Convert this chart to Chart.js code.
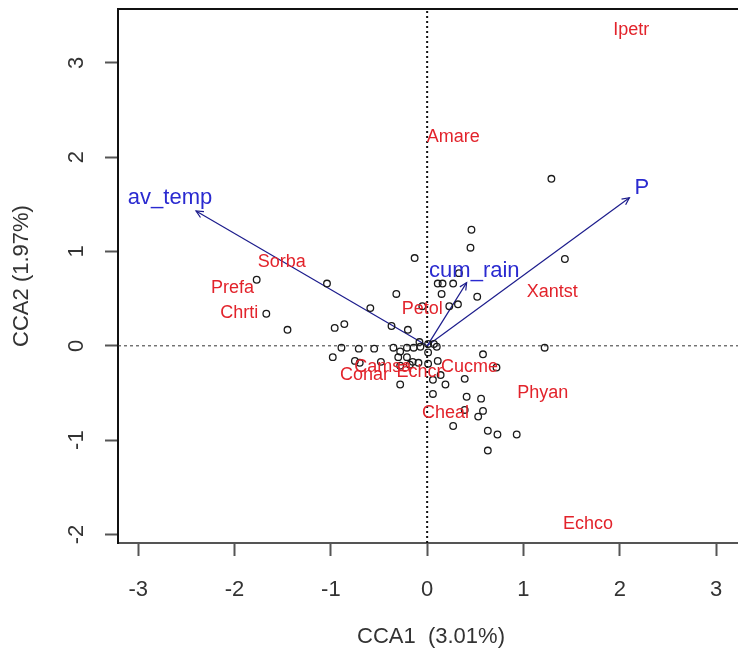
<!DOCTYPE html>
<html>
<head>
<meta charset="utf-8">
<script src="https://cdn.jsdelivr.net/npm/chart.js@4.4.1/dist/chart.umd.min.js"></script>
<style>
    html, body { margin: 0; padding: 0; background: #fff; overflow: hidden; }
    #wrap { width: 752px; height: 651px; }
</style>
</head>
<body>
<div id="wrap"><canvas id="canvas"></canvas></div>
<script>
// axis ticks
let xTicks = [-3, -2, -1, 0, 1, 2, 3];
let yTicks = [-2, -1, 0, 1, 2, 3];
let xRange = [-3.21, 3.29];
let yRange = [-2.09, 3.57];

// site scores (open circles)
let siteX = [1.29, 0.46, 0.45, 1.43, -0.13, -1.77, -1.04, 0.33, 0.11, 0.16, 0.27, -0.32, 0.15, 0.52,
    -0.59, -1.67, -0.05, 0.23, 0.32, -1.45, -0.96, -0.86, -0.37, -0.20, -0.08, 0.01, 0.07, 0.10,
    -0.89, -0.71, -0.55, -0.35, -0.28, -0.14, -0.07, -0.21, -0.98, -0.21, 0.01, 0.58, 1.22, -0.75,
    -0.48, -0.28, -0.18, -0.09, 0.01, 0.11, 0.72, -0.28, 0.39, 0.14, 0.06, 0.19, 0.06, 0.41, 0.56,
    0.58, 0.53, 0.39, 0.27, 0.63, 0.73, 0.93, 0.63, -0.30, -0.15, -0.70];
let siteY = [1.77, 1.23, 1.04, 0.92, 0.93, 0.70, 0.66, 0.77, 0.66, 0.66, 0.66, 0.55, 0.55, 0.52,
    0.40, 0.34, 0.42, 0.42, 0.44, 0.17, 0.19, 0.23, 0.21, 0.17, 0.04, 0.02, 0.02, -0.01,
    -0.02, -0.03, -0.03, -0.02, -0.06, -0.02, -0.01, -0.02, -0.12, -0.12, -0.07, -0.09, -0.02, -0.16,
    -0.17, -0.21, -0.20, -0.18, -0.19, -0.16, -0.23, -0.41, -0.35, -0.31, -0.36, -0.41, -0.51, -0.54, -0.56,
    -0.69, -0.75, -0.68, -0.85, -0.90, -0.94, -0.94, -1.11, -0.12, -0.17, -0.18];

// species scores (red labels)
let speciesNames = ['Ipetr', 'Amare', 'Sorba', 'Prefa', 'Chrti', 'Petol', 'Xantst', 'Cucme',
    'Phyan', 'Cheal', 'Echco', 'Conar', 'Camsa', 'Echcr'];
let speciesX = [2.12, 0.27, -1.51, -2.02, -1.95, -0.05, 1.30, 0.44, 1.20, 0.19, 1.67, -0.65, -0.46, -0.08];
let speciesY = [3.35, 2.21, 0.89, 0.61, 0.35, 0.39, 0.57, -0.22, -0.50, -0.71, -1.89, -0.31, -0.23, -0.28];

// environmental arrows
let envNames = ['av_temp', 'cum_rain', 'P'];
let envX = [-2.40, 0.41, 2.10];
let envY = [1.43, 0.67, 1.57];
let envLabelX = [-2.67, 0.49, 2.23];
let envLabelY = [1.57, 0.79, 1.67];

function drawGraph() {
    let ctx = document.getElementById('canvas').getContext('2d');
    let fontFamily = '"Liberation Sans", Arial, sans-serif';

    let sites = siteX.map(function (x, i) {
        return { x: x, y: siteY[i] };
    });

    let datasets = [{
        label: 'zeroX',
        data: [{ x: 0, y: yRange[0] }, { x: 0, y: yRange[1] }],
        showLine: true,
        borderColor: '#111',
        borderWidth: 2,
        borderDash: [2, 3],
        pointRadius: 0
    }, {
        label: 'zeroY',
        data: [{ x: xRange[0], y: 0 }, { x: xRange[1], y: 0 }],
        showLine: true,
        borderColor: '#333',
        borderWidth: 1,
        borderDash: [3, 3],
        pointRadius: 0
    }, {
        label: 'sites',
        data: sites,
        pointRadius: 3.3,
        pointBorderWidth: 1.3,
        borderColor: '#1a1a1a',
        backgroundColor: 'rgba(0,0,0,0)'
    }];

    envNames.forEach(function (name, i) {
        datasets.push({
            label: name,
            data: [{ x: 0, y: 0 }, { x: envX[i], y: envY[i] }],
            showLine: true,
            borderColor: '#1c1c8c',
            borderWidth: 1.2,
            pointRadius: 0
        });
    });

    // arrow heads, labels, rotated y tick labels and the top frame line
    let biplotText = {
        id: 'biplotText',
        afterDatasetsDraw: function (chart) {
            let c = chart.ctx;
            let xs = chart.scales.x;
            let ys = chart.scales.y;
            let area = chart.chartArea;
            c.save();

            c.strokeStyle = '#1c1c8c';
            c.lineWidth = 1.2;
            envNames.forEach(function (name, i) {
                let x0 = xs.getPixelForValue(0), y0 = ys.getPixelForValue(0);
                let x1 = xs.getPixelForValue(envX[i]), y1 = ys.getPixelForValue(envY[i]);
                let ang = Math.atan2(y1 - y0, x1 - x0);
                let len = 8;
                c.beginPath();
                c.moveTo(x1 - len * Math.cos(ang - 0.45), y1 - len * Math.sin(ang - 0.45));
                c.lineTo(x1, y1);
                c.lineTo(x1 - len * Math.cos(ang + 0.45), y1 - len * Math.sin(ang + 0.45));
                c.stroke();
            });

            c.textAlign = 'center';
            c.textBaseline = 'middle';
            c.font = '18px ' + fontFamily;
            c.fillStyle = '#e2232b';
            speciesNames.forEach(function (name, i) {
                c.fillText(name, xs.getPixelForValue(speciesX[i]), ys.getPixelForValue(speciesY[i]));
            });

            c.font = '22px ' + fontFamily;
            c.fillStyle = '#2a2ad0';
            envNames.forEach(function (name, i) {
                c.fillText(name, xs.getPixelForValue(envLabelX[i]), ys.getPixelForValue(envLabelY[i]));
            });

            // y tick labels run parallel to the axis, like R
            c.font = '22px ' + fontFamily;
            c.fillStyle = '#333';
            ys.ticks.forEach(function (t) {
                c.save();
                c.translate(area.left - 41, ys.getPixelForValue(t.value));
                c.rotate(-Math.PI / 2);
                c.fillText(String(t.value), 0, 0);
                c.restore();
            });

            c.strokeStyle = '#111';
            c.lineWidth = 2;
            c.beginPath();
            c.moveTo(area.left, area.top);
            c.lineTo(area.right, area.top);
            c.stroke();
            c.restore();
        }
    };

    let font = { family: fontFamily, size: 22 };

    new Chart(ctx, {
        type: 'scatter',
        data: { datasets: datasets },
        options: {
            responsive: true,
            maintainAspectRatio: false,
            animation: false,
            layout: { padding: { left: 9, top: 9, right: 8, bottom: 1 } },
            plugins: {
                legend: { display: false },
                tooltip: { enabled: false }
            },
            scales: {
                x: {
                    type: 'linear',
                    min: xRange[0],
                    max: xRange[1],
                    afterBuildTicks: function (scale) {
                        scale.ticks = xTicks.map(function (v) { return { value: v }; });
                    },
                    afterFit: function (scale) {
                        scale.height = 107;
                        scale.paddingLeft = 0;
                        scale.paddingRight = 0;
                    },
                    grid: { drawOnChartArea: false, drawTicks: true, tickLength: 13, tickColor: '#555', tickWidth: 2 },
                    border: { color: '#555', width: 2 },
                    ticks: { color: '#333', font: font, padding: 21, maxRotation: 0 },
                    title: {
                        display: true,
                        text: 'CCA1  (3.01%)',
                        color: '#333',
                        font: font,
                        padding: { top: 20, bottom: 0 }
                    }
                },
                y: {
                    type: 'linear',
                    min: yRange[0],
                    max: yRange[1],
                    afterBuildTicks: function (scale) {
                        scale.ticks = yTicks.map(function (v) { return { value: v }; });
                    },
                    afterFit: function (scale) {
                        scale.width = 109;
                        scale.paddingTop = 0;
                        scale.paddingBottom = 0;
                    },
                    grid: { drawOnChartArea: false, drawTicks: true, tickLength: 13, tickColor: '#555', tickWidth: 2 },
                    border: { color: '#111', width: 2 },
                    ticks: { display: false },
                    title: {
                        display: true,
                        text: 'CCA2 (1.97%)',
                        color: '#333',
                        font: font,
                        padding: { top: 0, bottom: 26 }
                    }
                }
            }
        },
        plugins: [biplotText]
    });
}

drawGraph();
</script>
</body>
</html>
